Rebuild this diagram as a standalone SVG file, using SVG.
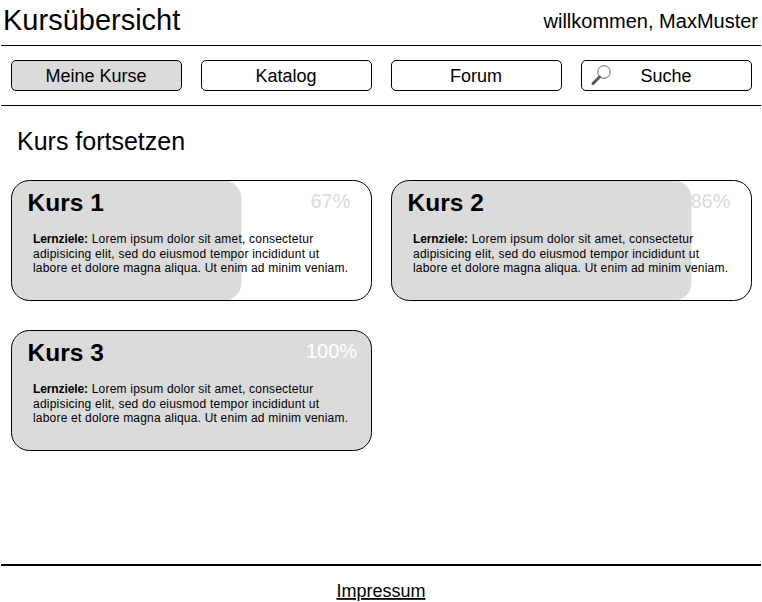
<svg xmlns="http://www.w3.org/2000/svg" width="762" height="602" viewBox="0 0 762 602">
<style>
text{font-family:"Liberation Sans",Arial,Helvetica,sans-serif;fill:#000}
.rule{stroke:#000;fill:none}
.btn{fill:#fff;stroke:#000}
.btnact{fill:#dbdbdb;stroke:#000}
.bl{font-size:18px;text-anchor:middle}
.card{fill:none;stroke:#000}
.prog{fill:#dbdbdb}
.cardbg{fill:#fff}
.h{font-size:24.5px;font-weight:bold}
.pct{font-size:20px;fill:#dbdbdb}
.b{font-size:12px}
.bb{font-weight:bold}
</style>
<rect width="762" height="602" fill="#fff"/>
<g id="header">
<text x="3" y="30" font-size="29">Kursübersicht</text>
<text x="758" y="28" font-size="20" text-anchor="end">willkommen, MaxMuster</text>
<line class="rule" x1="1" y1="45.5" x2="761" y2="45.5"/>
<line class="rule" x1="1" y1="105.5" x2="761" y2="105.5"/>
</g>
<g id="nav-meine"><rect class="btnact" x="11.5" y="60.5" width="170" height="30" rx="4.5"/><text class="bl" x="96" y="82">Meine Kurse</text></g>
<g id="nav-katalog"><rect class="btn" x="201.5" y="60.5" width="170" height="30" rx="4.5"/><text class="bl" x="286" y="82">Katalog</text></g>
<g id="nav-forum"><rect class="btn" x="391.5" y="60.5" width="170" height="30" rx="4.5"/><text class="bl" x="476" y="82">Forum</text></g>
<g id="nav-suche"><rect class="btn" x="581.5" y="60.5" width="170" height="30" rx="4.5"/>
<circle cx="604" cy="72" r="6.3" fill="#fff" stroke="#666" stroke-width="1"/>
<line x1="599.5" y1="77" x2="593" y2="83.5" stroke="#555" stroke-width="3" stroke-linecap="round"/>
<text class="bl" x="666" y="82">Suche</text></g>
<text x="17" y="150" font-size="25">Kurs fortsetzen</text>
<g id="kurs1">
<rect class="cardbg" x="11.5" y="180.5" width="360" height="120" rx="18"/>
<path class="prog" d="M29.5 180.5H223.5a18 18 0 0 1 18 18V282.5a18 18 0 0 1 -18 18H29.5a18 18 0 0 1 -18 -18V198.5a18 18 0 0 1 18 -18z"/>
<rect class="card" x="11.5" y="180.5" width="360" height="120" rx="18"/>
<text class="h" x="27.500" y="211">Kurs 1</text>
<text class="pct" x="310.500" y="208">67%</text>
<text class="b" x="33" y="243"><tspan class="bb" textLength="55">Lernziele:</tspan><tspan x="91.700" textLength="221.500">Lorem ipsum dolor sit amet, consectetur</tspan></text>
<text class="b" x="33" y="257.500" textLength="286">adipisicing elit, sed do eiusmod tempor incididunt ut</text>
<text class="b" x="33" y="272" textLength="315">labore et dolore magna aliqua. Ut enim ad minim veniam.</text>
</g>
<g id="kurs2">
<rect class="cardbg" x="391.5" y="180.5" width="360" height="120" rx="18"/>
<text class="pct" x="690.500" y="208">86%</text>
<path class="prog" d="M409.5 180.5H673.5a18 18 0 0 1 18 18V282.5a18 18 0 0 1 -18 18H409.5a18 18 0 0 1 -18 -18V198.5a18 18 0 0 1 18 -18z"/>
<rect class="card" x="391.5" y="180.5" width="360" height="120" rx="18"/>
<text class="h" x="407.500" y="211">Kurs 2</text>
<text class="b" x="413" y="243"><tspan class="bb" textLength="55">Lernziele:</tspan><tspan x="471.700" textLength="221.500">Lorem ipsum dolor sit amet, consectetur</tspan></text>
<text class="b" x="413" y="257.500" textLength="286">adipisicing elit, sed do eiusmod tempor incididunt ut</text>
<text class="b" x="413" y="272" textLength="315">labore et dolore magna aliqua. Ut enim ad minim veniam.</text>
</g>
<g id="kurs3">
<rect class="prog" x="11.5" y="330.5" width="360" height="120" rx="18"/>
<rect class="card" x="11.5" y="330.5" width="360" height="120" rx="18"/>
<text class="h" x="27.500" y="361">Kurs 3</text>
<text class="pct" x="306" y="358" style="fill:#fff">100%</text>
<text class="b" x="33" y="393"><tspan class="bb" textLength="55">Lernziele:</tspan><tspan x="91.700" textLength="221.500">Lorem ipsum dolor sit amet, consectetur</tspan></text>
<text class="b" x="33" y="407.500" textLength="286">adipisicing elit, sed do eiusmod tempor incididunt ut</text>
<text class="b" x="33" y="422" textLength="315">labore et dolore magna aliqua. Ut enim ad minim veniam.</text>
</g>
<g id="footer">
<line x1="1" y1="565" x2="761" y2="565" stroke="#000" stroke-width="2"/>
<text x="381" y="597" font-size="18" text-anchor="middle" text-decoration="underline">Impressum</text>
</g>
</svg>
